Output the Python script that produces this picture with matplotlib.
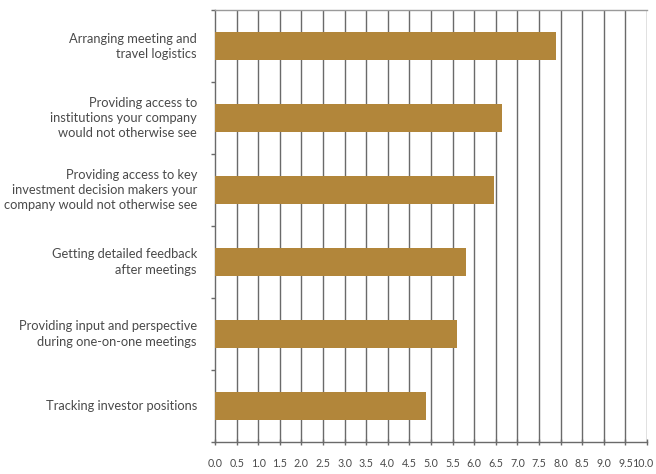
import matplotlib
matplotlib.use("Agg")
import matplotlib.pyplot as plt
import matplotlib.transforms as mtransforms
import numpy as np

categories = [
    "Arranging meeting and\ntravel logistics",
    "Providing access to\ninstitutions your company\nwould not otherwise see",
    "Providing access to key\ninvestment decision makers your\ncompany would not otherwise see",
    "Getting detailed feedback\nafter meetings",
    "Providing input and perspective\nduring one-on-one meetings",
    "Tracking investor positions",
]
scores = [7.89, 6.64, 6.46, 5.81, 5.60, 4.88]
x_ticks = [i * 0.5 for i in range(21)]
x_tick_labels = ["{:.1f}".format(v) for v in x_ticks]

bar_color = "#B2863A"
grid_color = "#6a6a6a"
text_color = "#4a4a4a"

plt.rcParams["font.family"] = ["Lato", "DejaVu Sans"]

fig = plt.figure(figsize=(6.56, 4.74), dpi=100)
ax = fig.add_axes([215 / 656, 1 - 442 / 474, 432 / 656, 432 / 474])

y = np.arange(len(categories))
ax.barh(y, scores, height=0.39, color=bar_color, zorder=3)
ax.set_ylim(len(categories) - 0.5, -0.5)
ax.set_xlim(0, 10)

for v in x_ticks[1:]:
    ax.axvline(v, color=grid_color, lw=1.0, zorder=1)

ax.set_xticks(x_ticks)
ax.set_xticklabels(x_tick_labels, fontsize=7.7, color=text_color)
ax.tick_params(axis="x", length=5, width=1, color=grid_color, pad=9, direction="inout")
# nudge the last label left so it stays inside the figure
last = ax.get_xticklabels()[-1]
last.set_transform(last.get_transform() + mtransforms.ScaledTranslation(-3 / 72, 0, fig.dpi_scale_trans))

# category ticks on boundaries, labels at bar centres
ax.set_yticks(np.arange(-0.5, len(categories), 1.0))
ax.set_yticklabels([])
ax.tick_params(axis="y", length=3, width=1, color=grid_color, direction="out")
for i, label in enumerate(categories):
    ax.annotate(label, xy=(0, i), xycoords=ax.get_yaxis_transform(),
                xytext=(-13, 0), textcoords="offset points",
                ha="right", va="center", fontsize=9.3, color=text_color,
                linespacing=1.3)

for side in ["left", "bottom", "top"]:
    ax.spines[side].set_color(grid_color)
    ax.spines[side].set_linewidth(1.0)
ax.spines["top"].set_color("#9a9a9a")
ax.spines["right"].set_visible(False)

fig.savefig("out.png", dpi=100)
